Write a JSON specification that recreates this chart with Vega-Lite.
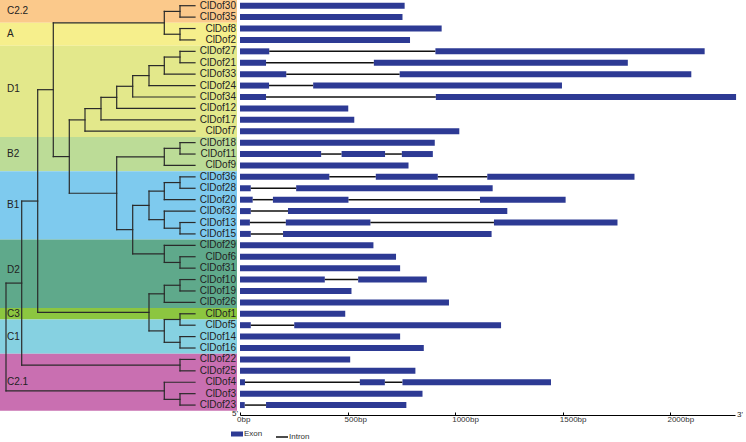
{
  "$schema": "https://vega.github.io/schema/vega-lite/v6.json",
  "padding": 0,
  "spacing": 3,
  "bounds": "flush",
  "resolve": {"scale": {"color": "independent", "x": "independent", "y": "independent"}, "legend": {"color": "independent"}},
  "config": {"view": {"stroke": null}, "font": "Liberation Sans"},
  "datasets": {
    "bands": [
      {"group": "C2.2", "from": -0.5, "to": 1.5, "ly": 0.5},
      {"group": "A", "from": 1.5, "to": 3.5, "ly": 2.5},
      {"group": "D1", "from": 3.5, "to": 11.5, "ly": 7.3},
      {"group": "B2", "from": 11.5, "to": 14.5, "ly": 13},
      {"group": "B1", "from": 14.5, "to": 20.5, "ly": 17.5},
      {"group": "D2", "from": 20.5, "to": 26.5, "ly": 23.2},
      {"group": "C3", "from": 26.5, "to": 27.5, "ly": 27},
      {"group": "C1", "from": 27.5, "to": 30.5, "ly": 29},
      {"group": "C2.1", "from": 30.5, "to": 35.5, "ly": 33}
    ],
    "ends": [
      {"lab": "5'", "pos": 0},
      {"lab": "3'", "pos": 2300}
    ],
    "genes": [
      {"gene": "ClDof30", "row": 0}, {"gene": "ClDof35", "row": 1}, {"gene": "ClDof8", "row": 2},
      {"gene": "ClDof2", "row": 3}, {"gene": "ClDof27", "row": 4}, {"gene": "ClDof21", "row": 5},
      {"gene": "ClDof33", "row": 6}, {"gene": "ClDof24", "row": 7}, {"gene": "ClDof34", "row": 8},
      {"gene": "ClDof12", "row": 9}, {"gene": "ClDof17", "row": 10}, {"gene": "ClDof7", "row": 11},
      {"gene": "ClDof18", "row": 12}, {"gene": "ClDof11", "row": 13}, {"gene": "ClDof9", "row": 14},
      {"gene": "ClDof36", "row": 15}, {"gene": "ClDof28", "row": 16}, {"gene": "ClDof20", "row": 17},
      {"gene": "ClDof32", "row": 18}, {"gene": "ClDof13", "row": 19}, {"gene": "ClDof15", "row": 20},
      {"gene": "ClDof29", "row": 21}, {"gene": "ClDof6", "row": 22}, {"gene": "ClDof31", "row": 23},
      {"gene": "ClDof10", "row": 24}, {"gene": "ClDof19", "row": 25}, {"gene": "ClDof26", "row": 26},
      {"gene": "ClDof1", "row": 27}, {"gene": "ClDof5", "row": 28}, {"gene": "ClDof14", "row": 29},
      {"gene": "ClDof16", "row": 30}, {"gene": "ClDof22", "row": 31}, {"gene": "ClDof25", "row": 32},
      {"gene": "ClDof4", "row": 33}, {"gene": "ClDof3", "row": 34}, {"gene": "ClDof23", "row": 35}
    ],
    "tree": [
      {"x1": 180, "x2": 180, "y1": 0, "y2": 1}, {"x1": 180, "x2": 195, "y1": 0, "y2": 0}, {"x1": 180, "x2": 195, "y1": 1, "y2": 1},
      {"x1": 180, "x2": 180, "y1": 2, "y2": 3}, {"x1": 180, "x2": 195, "y1": 2, "y2": 2}, {"x1": 180, "x2": 195, "y1": 3, "y2": 3},
      {"x1": 164.3, "x2": 164.3, "y1": 0.5, "y2": 2.5}, {"x1": 164.3, "x2": 180, "y1": 0.5, "y2": 0.5}, {"x1": 164.3, "x2": 180, "y1": 2.5, "y2": 2.5},
      {"x1": 180, "x2": 180, "y1": 4, "y2": 5}, {"x1": 180, "x2": 195, "y1": 4, "y2": 4}, {"x1": 180, "x2": 195, "y1": 5, "y2": 5},
      {"x1": 164.3, "x2": 164.3, "y1": 4.5, "y2": 6}, {"x1": 164.3, "x2": 180, "y1": 4.5, "y2": 4.5}, {"x1": 164.3, "x2": 195, "y1": 6, "y2": 6},
      {"x1": 149, "x2": 149, "y1": 5.25, "y2": 7}, {"x1": 149, "x2": 164.3, "y1": 5.25, "y2": 5.25}, {"x1": 149, "x2": 195, "y1": 7, "y2": 7},
      {"x1": 132.7, "x2": 132.7, "y1": 6.125, "y2": 8}, {"x1": 132.7, "x2": 149, "y1": 6.125, "y2": 6.125}, {"x1": 132.7, "x2": 195, "y1": 8, "y2": 8},
      {"x1": 116.7, "x2": 116.7, "y1": 7.0625, "y2": 9}, {"x1": 116.7, "x2": 132.7, "y1": 7.0625, "y2": 7.0625}, {"x1": 116.7, "x2": 195, "y1": 9, "y2": 9},
      {"x1": 101, "x2": 101, "y1": 8.031, "y2": 10}, {"x1": 101, "x2": 116.7, "y1": 8.031, "y2": 8.031}, {"x1": 101, "x2": 195, "y1": 10, "y2": 10},
      {"x1": 85, "x2": 85, "y1": 9.016, "y2": 11}, {"x1": 85, "x2": 101, "y1": 9.016, "y2": 9.016}, {"x1": 85, "x2": 195, "y1": 11, "y2": 11},
      {"x1": 180, "x2": 180, "y1": 12, "y2": 13}, {"x1": 180, "x2": 195, "y1": 12, "y2": 12}, {"x1": 180, "x2": 195, "y1": 13, "y2": 13},
      {"x1": 164.3, "x2": 164.3, "y1": 12.5, "y2": 14}, {"x1": 164.3, "x2": 180, "y1": 12.5, "y2": 12.5}, {"x1": 164.3, "x2": 195, "y1": 14, "y2": 14},
      {"x1": 180, "x2": 180, "y1": 15, "y2": 16}, {"x1": 180, "x2": 195, "y1": 15, "y2": 15}, {"x1": 180, "x2": 195, "y1": 16, "y2": 16},
      {"x1": 164.3, "x2": 164.3, "y1": 15.5, "y2": 17}, {"x1": 164.3, "x2": 180, "y1": 15.5, "y2": 15.5}, {"x1": 164.3, "x2": 195, "y1": 17, "y2": 17},
      {"x1": 180, "x2": 180, "y1": 19, "y2": 20}, {"x1": 180, "x2": 195, "y1": 19, "y2": 19}, {"x1": 180, "x2": 195, "y1": 20, "y2": 20},
      {"x1": 164.3, "x2": 164.3, "y1": 18, "y2": 19.5}, {"x1": 164.3, "x2": 195, "y1": 18, "y2": 18}, {"x1": 164.3, "x2": 180, "y1": 19.5, "y2": 19.5},
      {"x1": 149, "x2": 149, "y1": 16.25, "y2": 18.75}, {"x1": 149, "x2": 164.3, "y1": 16.25, "y2": 16.25}, {"x1": 149, "x2": 164.3, "y1": 18.75, "y2": 18.75},
      {"x1": 180, "x2": 180, "y1": 22, "y2": 23}, {"x1": 180, "x2": 195, "y1": 22, "y2": 22}, {"x1": 180, "x2": 195, "y1": 23, "y2": 23},
      {"x1": 164.3, "x2": 164.3, "y1": 21, "y2": 22.5}, {"x1": 164.3, "x2": 195, "y1": 21, "y2": 21}, {"x1": 164.3, "x2": 180, "y1": 22.5, "y2": 22.5},
      {"x1": 132.7, "x2": 132.7, "y1": 17.5, "y2": 21.75}, {"x1": 132.7, "x2": 149, "y1": 17.5, "y2": 17.5}, {"x1": 132.7, "x2": 164.3, "y1": 21.75, "y2": 21.75},
      {"x1": 116.7, "x2": 116.7, "y1": 13.25, "y2": 19.625}, {"x1": 116.7, "x2": 164.3, "y1": 13.25, "y2": 13.25}, {"x1": 116.7, "x2": 132.7, "y1": 19.625, "y2": 19.625},
      {"x1": 69.3, "x2": 69.3, "y1": 10.008, "y2": 16.438}, {"x1": 69.3, "x2": 85, "y1": 10.008, "y2": 10.008}, {"x1": 69.3, "x2": 116.7, "y1": 16.438, "y2": 16.438},
      {"x1": 53.3, "x2": 53.3, "y1": 1.5, "y2": 13.223}, {"x1": 53.3, "x2": 164.3, "y1": 1.5, "y2": 1.5}, {"x1": 53.3, "x2": 69.3, "y1": 13.223, "y2": 13.223},
      {"x1": 180, "x2": 180, "y1": 24, "y2": 25}, {"x1": 180, "x2": 195, "y1": 24, "y2": 24}, {"x1": 180, "x2": 195, "y1": 25, "y2": 25},
      {"x1": 164.3, "x2": 164.3, "y1": 24.5, "y2": 26}, {"x1": 164.3, "x2": 180, "y1": 24.5, "y2": 24.5}, {"x1": 164.3, "x2": 195, "y1": 26, "y2": 26},
      {"x1": 180, "x2": 180, "y1": 27, "y2": 28}, {"x1": 180, "x2": 195, "y1": 27, "y2": 27}, {"x1": 180, "x2": 195, "y1": 28, "y2": 28},
      {"x1": 180, "x2": 180, "y1": 29, "y2": 30}, {"x1": 180, "x2": 195, "y1": 29, "y2": 29}, {"x1": 180, "x2": 195, "y1": 30, "y2": 30},
      {"x1": 164.3, "x2": 164.3, "y1": 27.5, "y2": 29.5}, {"x1": 164.3, "x2": 180, "y1": 27.5, "y2": 27.5}, {"x1": 164.3, "x2": 180, "y1": 29.5, "y2": 29.5},
      {"x1": 149, "x2": 149, "y1": 25.25, "y2": 28.5}, {"x1": 149, "x2": 164.3, "y1": 25.25, "y2": 25.25}, {"x1": 149, "x2": 164.3, "y1": 28.5, "y2": 28.5},
      {"x1": 37.7, "x2": 37.7, "y1": 7.36, "y2": 26.875}, {"x1": 37.7, "x2": 53.3, "y1": 7.36, "y2": 7.36}, {"x1": 37.7, "x2": 149, "y1": 26.875, "y2": 26.875},
      {"x1": 180, "x2": 180, "y1": 31, "y2": 32}, {"x1": 180, "x2": 195, "y1": 31, "y2": 31}, {"x1": 180, "x2": 195, "y1": 32, "y2": 32},
      {"x1": 21.7, "x2": 21.7, "y1": 17.12, "y2": 31.5}, {"x1": 21.7, "x2": 37.7, "y1": 17.12, "y2": 17.12}, {"x1": 21.7, "x2": 180, "y1": 31.5, "y2": 31.5},
      {"x1": 180, "x2": 180, "y1": 34, "y2": 35}, {"x1": 180, "x2": 195, "y1": 34, "y2": 34}, {"x1": 180, "x2": 195, "y1": 35, "y2": 35},
      {"x1": 164.3, "x2": 164.3, "y1": 33, "y2": 34.5}, {"x1": 164.3, "x2": 195, "y1": 33, "y2": 33}, {"x1": 164.3, "x2": 180, "y1": 34.5, "y2": 34.5},
      {"x1": 6, "x2": 6, "y1": 24.31, "y2": 33.75}, {"x1": 6, "x2": 21.7, "y1": 24.31, "y2": 24.31}, {"x1": 6, "x2": 164.3, "y1": 33.75, "y2": 33.75}
    ],
    "parts": [
      {"row": 0, "part": "Exon", "start": 0, "end": 765},
      {"row": 1, "part": "Exon", "start": 0, "end": 755},
      {"row": 2, "part": "Exon", "start": 0, "end": 937},
      {"row": 3, "part": "Exon", "start": 0, "end": 790},
      {"row": 4, "part": "Exon", "start": 0, "end": 136}, {"row": 4, "part": "Intron", "start": 136, "end": 908}, {"row": 4, "part": "Exon", "start": 908, "end": 2159},
      {"row": 5, "part": "Exon", "start": 0, "end": 121}, {"row": 5, "part": "Intron", "start": 121, "end": 622}, {"row": 5, "part": "Exon", "start": 622, "end": 1802},
      {"row": 6, "part": "Exon", "start": 0, "end": 215}, {"row": 6, "part": "Intron", "start": 215, "end": 742}, {"row": 6, "part": "Exon", "start": 742, "end": 2097},
      {"row": 7, "part": "Exon", "start": 0, "end": 135}, {"row": 7, "part": "Intron", "start": 135, "end": 340}, {"row": 7, "part": "Exon", "start": 340, "end": 1496},
      {"row": 8, "part": "Exon", "start": 0, "end": 121}, {"row": 8, "part": "Intron", "start": 121, "end": 910}, {"row": 8, "part": "Exon", "start": 910, "end": 2305},
      {"row": 9, "part": "Exon", "start": 0, "end": 503},
      {"row": 10, "part": "Exon", "start": 0, "end": 531},
      {"row": 11, "part": "Exon", "start": 0, "end": 1019},
      {"row": 12, "part": "Exon", "start": 0, "end": 905},
      {"row": 13, "part": "Exon", "start": 0, "end": 377}, {"row": 13, "part": "Intron", "start": 377, "end": 472}, {"row": 13, "part": "Exon", "start": 472, "end": 674}, {"row": 13, "part": "Intron", "start": 674, "end": 752}, {"row": 13, "part": "Exon", "start": 752, "end": 896},
      {"row": 14, "part": "Exon", "start": 0, "end": 783},
      {"row": 15, "part": "Exon", "start": 0, "end": 415}, {"row": 15, "part": "Intron", "start": 415, "end": 631}, {"row": 15, "part": "Exon", "start": 631, "end": 919}, {"row": 15, "part": "Intron", "start": 919, "end": 1149}, {"row": 15, "part": "Exon", "start": 1149, "end": 1833},
      {"row": 16, "part": "Exon", "start": 0, "end": 50}, {"row": 16, "part": "Intron", "start": 50, "end": 261}, {"row": 16, "part": "Exon", "start": 261, "end": 1174},
      {"row": 17, "part": "Exon", "start": 0, "end": 59}, {"row": 17, "part": "Intron", "start": 59, "end": 153}, {"row": 17, "part": "Exon", "start": 153, "end": 504}, {"row": 17, "part": "Intron", "start": 504, "end": 1115}, {"row": 17, "part": "Exon", "start": 1115, "end": 1513},
      {"row": 18, "part": "Exon", "start": 0, "end": 50}, {"row": 18, "part": "Intron", "start": 50, "end": 223}, {"row": 18, "part": "Exon", "start": 223, "end": 1242},
      {"row": 19, "part": "Exon", "start": 0, "end": 46}, {"row": 19, "part": "Intron", "start": 46, "end": 213}, {"row": 19, "part": "Exon", "start": 213, "end": 606}, {"row": 19, "part": "Intron", "start": 606, "end": 1180}, {"row": 19, "part": "Exon", "start": 1180, "end": 1754},
      {"row": 20, "part": "Exon", "start": 0, "end": 50}, {"row": 20, "part": "Intron", "start": 50, "end": 200}, {"row": 20, "part": "Exon", "start": 200, "end": 1169},
      {"row": 21, "part": "Exon", "start": 0, "end": 620},
      {"row": 22, "part": "Exon", "start": 0, "end": 725},
      {"row": 23, "part": "Exon", "start": 0, "end": 744},
      {"row": 24, "part": "Exon", "start": 0, "end": 394}, {"row": 24, "part": "Intron", "start": 394, "end": 549}, {"row": 24, "part": "Exon", "start": 549, "end": 868},
      {"row": 25, "part": "Exon", "start": 0, "end": 518},
      {"row": 26, "part": "Exon", "start": 0, "end": 971},
      {"row": 27, "part": "Exon", "start": 0, "end": 489},
      {"row": 28, "part": "Exon", "start": 0, "end": 50}, {"row": 28, "part": "Intron", "start": 50, "end": 252}, {"row": 28, "part": "Exon", "start": 252, "end": 1213},
      {"row": 29, "part": "Exon", "start": 0, "end": 744},
      {"row": 30, "part": "Exon", "start": 0, "end": 854},
      {"row": 31, "part": "Exon", "start": 0, "end": 512},
      {"row": 32, "part": "Exon", "start": 0, "end": 815},
      {"row": 33, "part": "Exon", "start": 0, "end": 23}, {"row": 33, "part": "Intron", "start": 23, "end": 557}, {"row": 33, "part": "Exon", "start": 557, "end": 673}, {"row": 33, "part": "Intron", "start": 673, "end": 755}, {"row": 33, "part": "Exon", "start": 755, "end": 1445},
      {"row": 34, "part": "Exon", "start": 0, "end": 848},
      {"row": 35, "part": "Exon", "start": 0, "end": 22}, {"row": 35, "part": "Intron", "start": 22, "end": 121}, {"row": 35, "part": "Exon", "start": 121, "end": 773}
    ]
  },
  "hconcat": [
    {
      "width": 237,
      "height": 415,
      "encoding": {
        "y": {"type": "quantitative", "scale": {"domain": [-0.5, 35.87], "reverse": true, "nice": false, "zero": false}, "axis": null}
      },
      "layer": [
        {
          "data": {"name": "bands"},
          "mark": {"type": "rect"},
          "encoding": {
            "x": {"datum": 0, "type": "quantitative", "scale": {"domain": [0, 237], "nice": false, "zero": false}, "axis": null},
            "x2": {"datum": 237},
            "y": {"field": "from", "type": "quantitative"},
            "y2": {"field": "to"},
            "color": {"field": "group", "type": "nominal", "legend": null,
              "scale": {"domain": ["C2.2", "A", "D1", "B2", "B1", "D2", "C3", "C1", "C2.1"],
                        "range": ["#fbc98b", "#f6ef8c", "#e3e88b", "#bcdc97", "#7ecaee", "#5fa98b", "#8cc640", "#86d1e1", "#c96fb1"]}}
          }
        },
        {
          "data": {"name": "bands"},
          "mark": {"type": "text", "align": "left", "baseline": "middle", "fontSize": 10, "color": "#222"},
          "encoding": {
            "x": {"datum": 7, "type": "quantitative"},
            "y": {"field": "ly", "type": "quantitative"},
            "text": {"field": "group"}
          }
        },
        {
          "data": {"name": "tree"},
          "mark": {"type": "rule", "color": "#2a2a2a", "strokeWidth": 1.2, "strokeCap": "square"},
          "encoding": {
            "x": {"field": "x1", "type": "quantitative"},
            "x2": {"field": "x2"},
            "y": {"field": "y1", "type": "quantitative"},
            "y2": {"field": "y2"}
          }
        },
        {
          "data": {"name": "genes"},
          "mark": {"type": "text", "align": "right", "baseline": "middle", "fontSize": 10, "color": "#222"},
          "encoding": {
            "x": {"datum": 236, "type": "quantitative"},
            "y": {"field": "row", "type": "quantitative"},
            "text": {"field": "gene"}
          }
        }
      ]
    },
    {
      "width": 495,
      "height": 415,
      "encoding": {
        "y": {"type": "quantitative", "scale": {"domain": [-0.5, 35.87], "reverse": true, "nice": false, "zero": false}, "axis": null}
      },
      "layer": [
        {
          "data": {"name": "parts"},
          "mark": {"type": "rule", "strokeCap": "butt", "clip": false},
          "encoding": {
            "x": {"field": "start", "type": "quantitative",
              "scale": {"domain": [0, 2300], "nice": false, "zero": false},
              "axis": {"values": [0, 500, 1000, 1500, 2000], "labelExpr": "datum.value + 'bp'", "title": null, "grid": false,
                       "tickSize": -3, "domainColor": "#000", "tickColor": "#000", "labelFontSize": 8, "labelColor": "#333",
                       "labelAlign": "left", "labelOffset": -3.5, "labelPadding": 3, "labelFlush": false}},
            "x2": {"field": "end"},
            "y": {"field": "row", "type": "quantitative"},
            "color": {"field": "part", "type": "nominal",
              "scale": {"domain": ["Exon", "Intron"], "range": ["#2d3a94", "#111111"]},
              "legend": {"orient": "none", "legendX": -7, "legendY": 430, "direction": "horizontal", "title": null,
                         "symbolType": "stroke", "symbolSize": 144, "labelFontSize": 8, "labelOffset": 3,
                         "columnPadding": 10, "labelColor": "#333",
                         "encode": {
                           "symbols": {"update": {
                             "strokeWidth": {"signal": "datum.value === 'Exon' ? 5 : 1.5"},
                             "stroke": {"signal": "datum.value === 'Exon' ? '#2d3a94' : '#111111'"},
                             "opacity": {"value": 1}}},
                           "labels": {"update": {"fill": {"value": "#333333"}}}}}},
            "strokeWidth": {"field": "part", "type": "nominal", "legend": null,
              "scale": {"type": "ordinal", "domain": ["Exon", "Intron"], "range": [6, 1.5]}}
          }
        },
        {
          "data": {"name": "ends"},
          "transform": [{"filter": "datum.pos === 0"}],
          "mark": {"type": "text", "align": "right", "baseline": "middle", "fontSize": 8, "color": "#222", "dx": -2, "dy": -1},
          "encoding": {
            "x": {"field": "pos", "type": "quantitative"},
            "y": {"datum": 35.87, "type": "quantitative"},
            "text": {"field": "lab"}
          }
        },
        {
          "data": {"name": "ends"},
          "transform": [{"filter": "datum.pos > 0"}],
          "mark": {"type": "text", "align": "left", "baseline": "middle", "fontSize": 8, "color": "#222", "dx": 2, "dy": 0},
          "encoding": {
            "x": {"field": "pos", "type": "quantitative"},
            "y": {"datum": 35.87, "type": "quantitative"},
            "text": {"field": "lab"}
          }
        }
      ]
    }
  ]
}
